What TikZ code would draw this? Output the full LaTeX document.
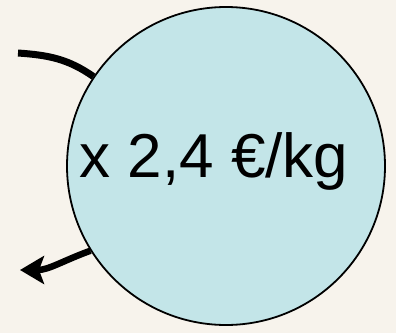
\documentclass[tikz,border=0pt]{standalone}
\usepackage{fontspec}
\setmainfont{Liberation Sans}
\usetikzlibrary{arrows.meta}
\definecolor{parch}{RGB}{247,243,236}
\definecolor{bubble}{RGB}{195,229,232}
\tikzset{
  bubblebox/.style={circle, draw=black, line width=1.8pt, fill=bubble, minimum size=318pt, inner sep=0pt},
  flowline/.style={line width=7pt, draw=black},
  flowarrow/.style={line width=6.5pt, draw=black, -{Stealth[length=24pt,width=28pt,inset=5pt]}},
}
\begin{document}
\begin{tikzpicture}[x=1pt,y=1pt]
  \fill[parch] (0,0) rectangle (396,333);
  \useasboundingbox (0,0) rectangle (396,333);
  \node[bubblebox] (c) at (226,167) {};
  \node[anchor=base, font=\fontsize{62}{62}\selectfont, inner sep=0pt] (t) at (214,156) {x 2,4 €/kg};
  \coordinate (in) at (18,280);
  \coordinate (out) at (20,63);
  \draw[flowline] (in) to[out=-4, in=145] (c.146);
  \draw[flowarrow] (c.212) to[out=200, in=0] (out);
\end{tikzpicture}
\end{document}
